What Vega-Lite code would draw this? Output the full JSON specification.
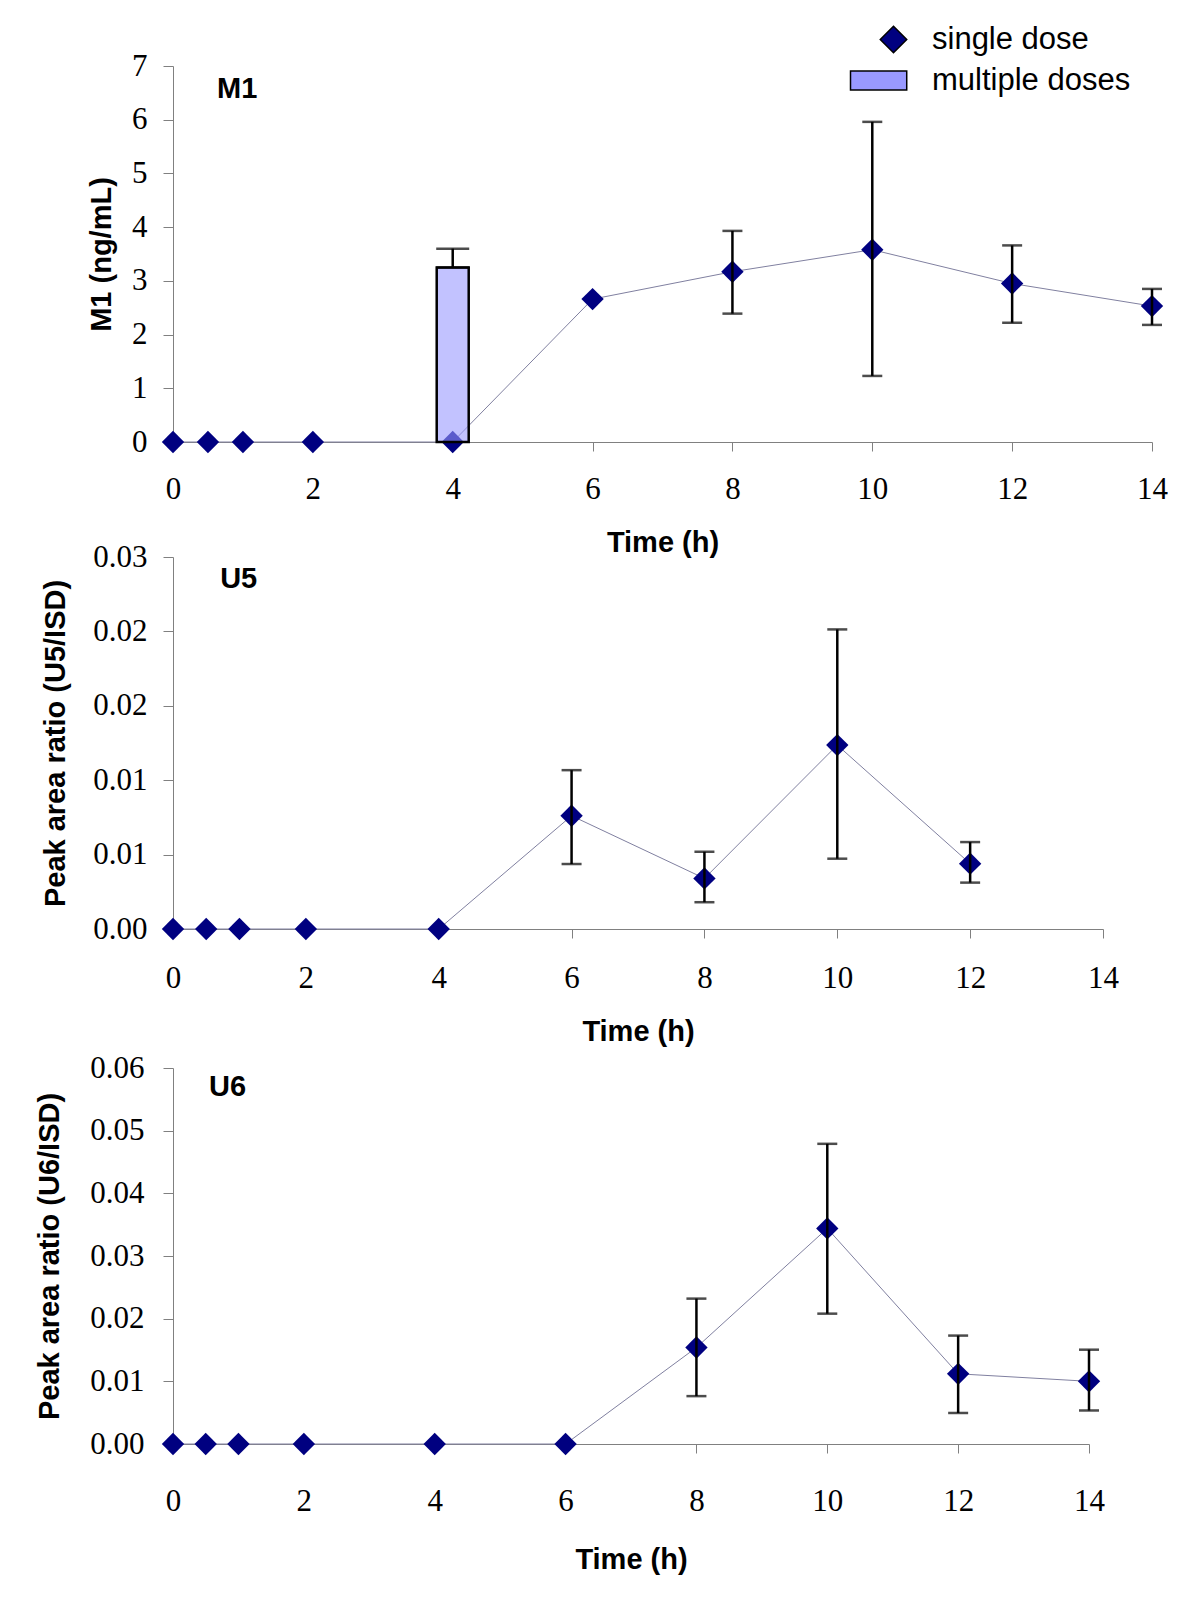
{
  "$schema": "https://vega.github.io/schema/vega-lite/v6.json",
  "background": "white",
  "padding": {"left": 35, "top": 24, "right": 5, "bottom": 5},
  "spacing": -27,
  "config": {
    "view": {"stroke": null},
    "axis": {
      "grid": false,
      "domainColor": "#808080",
      "tickColor": "#808080",
      "domainWidth": 1,
      "tickWidth": 1,
      "labelFont": "Liberation Serif",
      "labelFontSize": 31,
      "labelColor": "black",
      "labelFlush": false,
      "titleFont": "Liberation Sans",
      "titleFontWeight": "bold",
      "titleFontSize": 29,
      "titleColor": "black"
    },
    "legend": {
      "labelFont": "Liberation Sans",
      "labelFontSize": 31,
      "labelColor": "black",
      "labelLimit": 500
    }
  },
  "resolve": {
    "scale": {"color": "independent", "shape": "independent"},
    "legend": {"color": "independent", "shape": "independent"}
  },
  "datasets": {
    "m1": [
      {"t": 0, "v": 0, "lo": null, "hi": null, "series": "single dose"},
      {"t": 0.5, "v": 0, "lo": null, "hi": null, "series": "single dose"},
      {"t": 1, "v": 0, "lo": null, "hi": null, "series": "single dose"},
      {"t": 2, "v": 0, "lo": null, "hi": null, "series": "single dose"},
      {"t": 4, "v": 0, "lo": null, "hi": null, "series": "single dose"},
      {"t": 6, "v": 2.66, "lo": null, "hi": null, "series": "single dose"},
      {"t": 8, "v": 3.17, "lo": 2.39, "hi": 3.93, "series": "single dose"},
      {"t": 10, "v": 3.58, "lo": 1.23, "hi": 5.96, "series": "single dose"},
      {"t": 12, "v": 2.95, "lo": 2.22, "hi": 3.66, "series": "single dose"},
      {"t": 14, "v": 2.53, "lo": 2.18, "hi": 2.85, "series": "single dose"}
    ],
    "m1bar": [
      {"t": 4, "v": 3.25, "lo": 3.25, "hi": 3.6, "series": "multiple doses"}
    ],
    "u5": [
      {"t": 0, "v": 0, "lo": null, "hi": null},
      {"t": 0.5, "v": 0, "lo": null, "hi": null},
      {"t": 1, "v": 0, "lo": null, "hi": null},
      {"t": 2, "v": 0, "lo": null, "hi": null},
      {"t": 4, "v": 0, "lo": null, "hi": null},
      {"t": 6, "v": 0.00913, "lo": 0.00524, "hi": 0.01281},
      {"t": 8, "v": 0.00408, "lo": 0.00216, "hi": 0.00623},
      {"t": 10, "v": 0.01483, "lo": 0.00567, "hi": 0.02416},
      {"t": 12, "v": 0.00527, "lo": 0.00374, "hi": 0.00701}
    ],
    "u6": [
      {"t": 0, "v": 0, "lo": null, "hi": null},
      {"t": 0.5, "v": 0, "lo": null, "hi": null},
      {"t": 1, "v": 0, "lo": null, "hi": null},
      {"t": 2, "v": 0, "lo": null, "hi": null},
      {"t": 4, "v": 0, "lo": null, "hi": null},
      {"t": 6, "v": 0, "lo": null, "hi": null},
      {"t": 8, "v": 0.0154, "lo": 0.00764, "hi": 0.0232},
      {"t": 10, "v": 0.0344, "lo": 0.0208, "hi": 0.0479},
      {"t": 12, "v": 0.0112, "lo": 0.00495, "hi": 0.0173},
      {"t": 14, "v": 0.01, "lo": 0.00535, "hi": 0.01505}
    ]
  },
  "vconcat": [
    {
      "width": 979,
      "height": 376,
      "layer": [
        {
          "data": {"name": "m1"},
          "mark": {"type": "line", "color": "#8080a0", "strokeWidth": 1},
          "encoding": {
            "x": {"field": "t", "type": "quantitative", "scale": {"domain": [0, 14], "nice": false, "padding": 0},
                  "axis": {"values": [0, 2, 4, 6, 8, 10, 12, 14], "format": "d", "tickSize": 9, "labelPadding": 23, "titlePadding": 24}, "title": "Time (h)"},
            "y": {"field": "v", "type": "quantitative", "scale": {"domain": [0, 7], "nice": false},
                  "axis": {"values": [0, 1, 2, 3, 4, 5, 6, 7], "format": "d", "tickSize": 10, "labelPadding": 16, "titlePadding": 15}, "title": "M1 (ng/mL)"}
          }
        },
        {
          "data": {"name": "m1"},
          "mark": {"type": "point", "filled": true, "size": 500, "opacity": 1},
          "encoding": {
            "x": {"field": "t", "type": "quantitative", "title": "Time (h)"},
            "y": {"field": "v", "type": "quantitative", "title": "M1 (ng/mL)"},
            "color": {"field": "series", "type": "nominal",
                      "scale": {"domain": ["single dose", "multiple doses"], "range": ["#000080", "#9999ff"]},
                      "legend": {"title": null, "orient": "none", "legendX": 705, "legendY": -42, "padding": 0,
                                 "symbolSize": 700, "symbolStrokeColor": "black", "symbolStrokeWidth": 1.5,
                                 "symbolOpacity": 1, "labelOffset": 23, "rowPadding": 8, "labelLimit": 500}},
            "shape": {"field": "series", "type": "nominal",
                      "scale": {"domain": ["single dose", "multiple doses"], "range": ["diamond", "M-3.25,-0.72H1V0.72H-3.25Z"]},
                      "legend": {"title": null, "orient": "none", "legendX": 705, "legendY": -42, "padding": 0,
                                 "symbolSize": 700, "symbolStrokeColor": "black", "symbolStrokeWidth": 1.5,
                                 "symbolOpacity": 1, "labelOffset": 23, "rowPadding": 8, "labelLimit": 500}}
          }
        },
        {
          "data": {"name": "m1bar"},
          "mark": {"type": "bar", "width": 32, "fillOpacity": 0.6, "stroke": "black", "strokeWidth": 2.5},
          "encoding": {
            "x": {"field": "t", "type": "quantitative", "title": "Time (h)"},
            "y": {"field": "v", "type": "quantitative", "title": "M1 (ng/mL)"},
            "color": {"field": "series", "type": "nominal"}
          }
        },
        {
          "data": {"name": "m1bar"},
          "mark": {"type": "errorbar", "color": "black", "thickness": 2.5, "ticks": {"size": 33, "thickness": 2.5, "color": "black"}},
          "encoding": {
            "x": {"field": "t", "type": "quantitative", "title": "Time (h)"},
            "y": {"field": "lo", "type": "quantitative", "title": "M1 (ng/mL)"},
            "y2": {"field": "hi"}
          }
        },
        {
          "data": {"name": "m1"},
          "transform": [{"filter": "datum.lo != null"}],
          "mark": {"type": "errorbar", "color": "black", "thickness": 2.5, "ticks": {"size": 20, "thickness": 2.5, "color": "black"}},
          "encoding": {
            "x": {"field": "t", "type": "quantitative", "title": "Time (h)"},
            "y": {"field": "lo", "type": "quantitative", "title": "M1 (ng/mL)"},
            "y2": {"field": "hi"}
          }
        },
        {
          "data": {"values": [{"panel": "M1"}]},
          "mark": {"type": "text", "align": "left", "baseline": "middle", "font": "Liberation Sans", "fontWeight": "bold", "fontSize": 29, "color": "black"},
          "encoding": {
            "text": {"field": "panel"},
            "x": {"datum": 0.63, "type": "quantitative"},
            "y": {"datum": 6.57, "type": "quantitative"}
          }
        }
      ]
    },
    {
      "spacing": 6,
      "vconcat": [
        {
          "width": 930,
          "height": 372,
          "layer": [
            {
              "data": {"name": "u5"},
              "mark": {"type": "line", "color": "#8080a0", "strokeWidth": 1},
              "encoding": {
                "x": {"field": "t", "type": "quantitative", "scale": {"domain": [0, 14], "nice": false},
                      "axis": {"values": [0, 2, 4, 6, 8, 10, 12, 14], "format": "d", "tickSize": 9, "labelPadding": 25, "titlePadding": 24}, "title": "Time (h)"},
                "y": {"field": "v", "type": "quantitative", "scale": {"domain": [0, 0.03], "nice": false},
                      "axis": {"values": [0, 0.006, 0.012, 0.018, 0.024, 0.03], "format": ".2f", "tickSize": 10, "labelPadding": 16, "titlePadding": 22}, "title": "Peak area ratio (U5/ISD)"}
              }
            },
            {
              "data": {"name": "u5"},
              "mark": {"type": "point", "shape": "diamond", "filled": true, "size": 500, "color": "#000080", "opacity": 1},
              "encoding": {
                "x": {"field": "t", "type": "quantitative", "title": "Time (h)"},
                "y": {"field": "v", "type": "quantitative", "title": "Peak area ratio (U5/ISD)"}
              }
            },
            {
              "data": {"name": "u5"},
              "transform": [{"filter": "datum.lo != null"}],
              "mark": {"type": "errorbar", "color": "black", "thickness": 2.5, "ticks": {"size": 20, "thickness": 2.5, "color": "black"}},
              "encoding": {
                "x": {"field": "t", "type": "quantitative", "title": "Time (h)"},
                "y": {"field": "lo", "type": "quantitative", "title": "Peak area ratio (U5/ISD)"},
                "y2": {"field": "hi"}
              }
            },
            {
              "data": {"values": [{"panel": "U5"}]},
              "mark": {"type": "text", "align": "left", "baseline": "middle", "font": "Liberation Sans", "fontWeight": "bold", "fontSize": 29, "color": "black"},
              "encoding": {
                "text": {"field": "panel"},
                "x": {"datum": 0.71, "type": "quantitative"},
                "y": {"datum": 0.0282, "type": "quantitative"}
              }
            }
          ]
        },
        {
          "width": 916,
          "height": 376,
          "layer": [
            {
              "data": {"name": "u6"},
              "mark": {"type": "line", "color": "#8080a0", "strokeWidth": 1},
              "encoding": {
                "x": {"field": "t", "type": "quantitative", "scale": {"domain": [0, 14], "nice": false},
                      "axis": {"values": [0, 2, 4, 6, 8, 10, 12, 14], "format": "d", "tickSize": 9, "labelPadding": 33, "titlePadding": 29}, "title": "Time (h)"},
                "y": {"field": "v", "type": "quantitative", "scale": {"domain": [0, 0.06], "nice": false},
                      "axis": {"values": [0, 0.01, 0.02, 0.03, 0.04, 0.05, 0.06], "format": ".2f", "tickSize": 10, "labelPadding": 19, "titlePadding": 25}, "title": "Peak area ratio (U6/ISD)"}
              }
            },
            {
              "data": {"name": "u6"},
              "mark": {"type": "point", "shape": "diamond", "filled": true, "size": 500, "color": "#000080", "opacity": 1},
              "encoding": {
                "x": {"field": "t", "type": "quantitative", "title": "Time (h)"},
                "y": {"field": "v", "type": "quantitative", "title": "Peak area ratio (U6/ISD)"}
              }
            },
            {
              "data": {"name": "u6"},
              "transform": [{"filter": "datum.lo != null"}],
              "mark": {"type": "errorbar", "color": "black", "thickness": 2.5, "ticks": {"size": 20, "thickness": 2.5, "color": "black"}},
              "encoding": {
                "x": {"field": "t", "type": "quantitative", "title": "Time (h)"},
                "y": {"field": "lo", "type": "quantitative", "title": "Peak area ratio (U6/ISD)"},
                "y2": {"field": "hi"}
              }
            },
            {
              "data": {"values": [{"panel": "U6"}]},
              "mark": {"type": "text", "align": "left", "baseline": "middle", "font": "Liberation Sans", "fontWeight": "bold", "fontSize": 29, "color": "black"},
              "encoding": {
                "text": {"field": "panel"},
                "x": {"datum": 0.55, "type": "quantitative"},
                "y": {"datum": 0.0569, "type": "quantitative"}
              }
            }
          ]
        }
      ]
    }
  ]
}
